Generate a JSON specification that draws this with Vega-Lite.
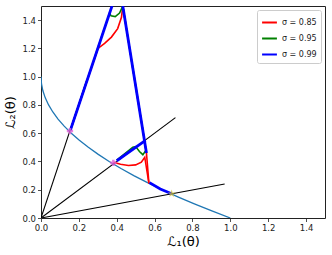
{
  "$schema": "https://vega.github.io/schema/vega-lite/v6.json",
  "width": 284,
  "height": 212,
  "autosize": {"type": "none"},
  "padding": {"left": 41, "top": 6, "right": 7, "bottom": 37},
  "background": "white",
  "config": {
    "font": "DejaVu Sans",
    "view": {"stroke": "#222", "strokeWidth": 1},
    "axis": {
      "grid": false, "domain": false, "tickColor": "#222", "tickSize": 3.5, "tickWidth": 0.8,
      "labelFontSize": 8.5, "labelColor": "#222", "labelPadding": 2, "labelFlush": false,
      "titleFontSize": 13, "titleFontWeight": "normal", "titleColor": "#000"
    },
    "legend": {
      "orient": "top-right", "offset": 4, "fillColor": "white", "strokeColor": "#ccc",
      "padding": 4, "cornerRadius": 2, "symbolType": "stroke", "symbolSize": 220,
      "symbolStrokeWidth": 2, "labelFontSize": 8, "labelColor": "#222", "rowPadding": 3,
      "title": null
    }
  },
  "datasets": {
    "front": [
      {"x": 0, "y": 1}, {"x": 0.0025, "y": 0.95}, {"x": 0.01, "y": 0.9}, {"x": 0.0225, "y": 0.85},
      {"x": 0.04, "y": 0.8}, {"x": 0.0625, "y": 0.75}, {"x": 0.09, "y": 0.7}, {"x": 0.1225, "y": 0.65},
      {"x": 0.16, "y": 0.6}, {"x": 0.2025, "y": 0.55}, {"x": 0.25, "y": 0.5}, {"x": 0.3025, "y": 0.45},
      {"x": 0.36, "y": 0.4}, {"x": 0.4225, "y": 0.35}, {"x": 0.49, "y": 0.3}, {"x": 0.5625, "y": 0.25},
      {"x": 0.64, "y": 0.2}, {"x": 0.7225, "y": 0.15}, {"x": 0.81, "y": 0.1}, {"x": 0.9025, "y": 0.05},
      {"x": 1, "y": 0}
    ],
    "rays": [
      {"ray": 1, "x": 0, "y": 0}, {"ray": 1, "x": 0.24, "y": 0.97},
      {"ray": 2, "x": 0, "y": 0}, {"ray": 2, "x": 0.71, "y": 0.71},
      {"ray": 3, "x": 0, "y": 0}, {"ray": 3, "x": 0.97, "y": 0.24}
    ],
    "red": [
      {"sigma": "σ = 0.85", "seg": 1, "x": 0.57, "y": 0.245},
      {"sigma": "σ = 0.85", "seg": 1, "x": 0.548, "y": 0.43},
      {"sigma": "σ = 0.85", "seg": 1, "x": 0.53, "y": 0.395},
      {"sigma": "σ = 0.85", "seg": 1, "x": 0.50, "y": 0.376},
      {"sigma": "σ = 0.85", "seg": 1, "x": 0.462, "y": 0.372},
      {"sigma": "σ = 0.85", "seg": 1, "x": 0.42, "y": 0.38},
      {"sigma": "σ = 0.85", "seg": 1, "x": 0.383, "y": 0.395},
      {"sigma": "σ = 0.85", "seg": 2, "x": 0.57, "y": 0.245},
      {"sigma": "σ = 0.85", "seg": 2, "x": 0.557, "y": 0.46},
      {"sigma": "σ = 0.85", "seg": 2, "x": 0.432, "y": 1.5},
      {"sigma": "σ = 0.85", "seg": 2, "x": 0.425, "y": 1.42},
      {"sigma": "σ = 0.85", "seg": 2, "x": 0.405, "y": 1.34},
      {"sigma": "σ = 0.85", "seg": 2, "x": 0.372, "y": 1.28},
      {"sigma": "σ = 0.85", "seg": 2, "x": 0.336, "y": 1.235},
      {"sigma": "σ = 0.85", "seg": 2, "x": 0.301, "y": 1.2},
      {"sigma": "σ = 0.85", "seg": 2, "x": 0.155, "y": 0.62}
    ],
    "green": [
      {"sigma": "σ = 0.95", "seg": 1, "x": 0.555, "y": 0.48},
      {"sigma": "σ = 0.95", "seg": 1, "x": 0.538, "y": 0.448},
      {"sigma": "σ = 0.95", "seg": 1, "x": 0.52, "y": 0.47},
      {"sigma": "σ = 0.95", "seg": 1, "x": 0.50, "y": 0.505},
      {"sigma": "σ = 0.95", "seg": 1, "x": 0.485, "y": 0.5},
      {"sigma": "σ = 0.95", "seg": 1, "x": 0.40, "y": 0.41},
      {"sigma": "σ = 0.95", "seg": 2, "x": 0.557, "y": 0.46},
      {"sigma": "σ = 0.95", "seg": 2, "x": 0.432, "y": 1.5},
      {"sigma": "σ = 0.95", "seg": 2, "x": 0.415, "y": 1.45},
      {"sigma": "σ = 0.95", "seg": 2, "x": 0.392, "y": 1.425},
      {"sigma": "σ = 0.95", "seg": 2, "x": 0.37, "y": 1.43},
      {"sigma": "σ = 0.95", "seg": 2, "x": 0.362, "y": 1.45},
      {"sigma": "σ = 0.95", "seg": 2, "x": 0.155, "y": 0.62}
    ],
    "blue": [
      {"sigma": "σ = 0.99", "seg": 1, "x": 0.557, "y": 0.46},
      {"sigma": "σ = 0.99", "seg": 1, "x": 0.432, "y": 1.5},
      {"sigma": "σ = 0.99", "seg": 2, "x": 0.375, "y": 1.5},
      {"sigma": "σ = 0.99", "seg": 2, "x": 0.155, "y": 0.62},
      {"sigma": "σ = 0.99", "seg": 3, "x": 0.552, "y": 0.55},
      {"sigma": "σ = 0.99", "seg": 3, "x": 0.40, "y": 0.405},
      {"sigma": "σ = 0.99", "seg": 4, "x": 0.573, "y": 0.25},
      {"sigma": "σ = 0.99", "seg": 4, "x": 0.63, "y": 0.205},
      {"sigma": "σ = 0.99", "seg": 4, "x": 0.69, "y": 0.172}
    ],
    "crosses": [
      {"x": 0.153, "y": 0.615}, {"x": 0.382, "y": 0.39}
    ],
    "stars": [
      {"x": 0.69, "y": 0.172}
    ]
  },
  "encoding": {
    "x": {"field": "x", "type": "quantitative", "scale": {"domain": [0, 1.5], "nice": false, "zero": false},
          "axis": {"values": [0, 0.2, 0.4, 0.6, 0.8, 1.0, 1.2, 1.4], "format": ".1f", "title": "ℒ₁(θ)", "titlePadding": 3}},
    "y": {"field": "y", "type": "quantitative", "scale": {"domain": [0, 1.5], "nice": false, "zero": false},
          "axis": {"values": [0, 0.2, 0.4, 0.6, 0.8, 1.0, 1.2, 1.4], "format": ".1f", "title": "ℒ₂(θ)", "titlePadding": 4}}
  },
  "layer": [
    {"data": {"name": "front"}, "mark": {"type": "line", "color": "#1f77b4", "strokeWidth": 1.3, "clip": true}},
    {"data": {"name": "rays"}, "mark": {"type": "line", "color": "#000", "strokeWidth": 1.1, "clip": true},
     "encoding": {"detail": {"field": "ray"}}},
    {"data": {"name": "red"}, "mark": {"type": "line", "strokeWidth": 1.6, "clip": true},
     "encoding": {"detail": {"field": "seg"}, "order": {"value": 0},
       "color": {"field": "sigma", "type": "nominal", "scale": {"domain": ["σ = 0.85", "σ = 0.95", "σ = 0.99"], "range": ["#ff0000", "#008000", "#0000ff"]}}}},
    {"data": {"name": "green"}, "mark": {"type": "line", "strokeWidth": 1.6, "clip": true},
     "encoding": {"detail": {"field": "seg"}, "order": {"value": 0},
       "color": {"field": "sigma", "type": "nominal"}}},
    {"data": {"name": "blue"}, "mark": {"type": "line", "strokeWidth": 2.8, "clip": true},
     "encoding": {"detail": {"field": "seg"}, "order": {"value": 0},
       "color": {"field": "sigma", "type": "nominal"}}},
    {"data": {"name": "crosses"}, "mark": {"type": "point", "shape": "cross", "color": "#e060d8", "filled": true, "size": 40, "opacity": 0.8}},
    {"data": {"name": "stars"}, "mark": {"type": "point", "shape": "M0,-1L0.24,-0.31L0.95,-0.31L0.38,0.12L0.59,0.81L0,0.4L-0.59,0.81L-0.38,0.12L-0.95,-0.31L-0.24,-0.31Z", "color": "#cfc23a", "filled": true, "size": 70}}
  ]
}
